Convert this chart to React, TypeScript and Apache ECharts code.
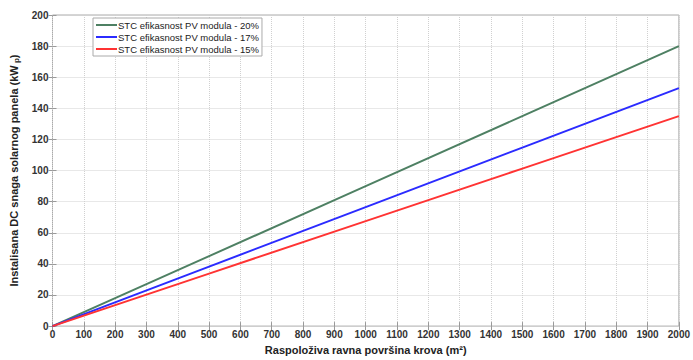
import React, { useEffect, useRef } from "react";
import * as echarts from "echarts";

const areas = [0, 500, 1000, 1500, 2000];
const eff20 = [0, 45, 90, 135, 180];
const eff17 = [0, 38.25, 76.5, 114.75, 153];
const eff15 = [0, 33.75, 67.5, 101.25, 135];
const seriesNames = [
  "STC efikasnost PV modula - 20%",
  "STC efikasnost PV modula - 17%",
  "STC efikasnost PV modula - 15%",
];
const colors = ["#4e8063", "#2b2bff", "#ff3333"];

export default function App() {
  const ref = useRef<HTMLDivElement>(null);
  useEffect(() => {
    if (!ref.current) return;
    const chart = echarts.init(ref.current, undefined, { renderer: "svg" });
    const all = [eff20, eff17, eff15];
    const tickLabel = { color: "#333", fontSize: 10, fontWeight: "bold" as const, fontFamily: "Liberation Sans, Arial, sans-serif", formatter: (v: number) => String(v) };
    chart.setOption({
      animation: false,
      backgroundColor: "#fff",
      grid: { left: 49, right: 8, top: 15, bottom: 25, show: true, borderColor: "#aaa", borderWidth: 1 },
      legend: {
        left: 93,
        top: 18,
        orient: "vertical",
        itemWidth: 21,
        itemHeight: 2,
        itemGap: 2,
        padding: [2, 3, 2, 3],
        borderColor: "#aaa",
        borderWidth: 1,
        backgroundColor: "#fff",
        icon: "rect",
        textStyle: { fontSize: 9.5, color: "#222", fontFamily: "Liberation Sans, Arial, sans-serif", padding: [0, 0, 0, -4] },
        data: seriesNames,
      },
      xAxis: [
        {
          type: "value",
          min: 0,
          max: 2000,
          interval: 100,
          name: "Raspoloživa ravna površina krova (m²)",
          nameLocation: "middle",
          nameGap: 15,
          nameTextStyle: { fontSize: 11, fontWeight: "bold", color: "#222", fontFamily: "Liberation Sans, Arial, sans-serif" },
          axisLine: { show: false },
          axisTick: { show: true, inside: true, length: 4, lineStyle: { color: "#999" } },
          axisLabel: { ...tickLabel, margin: 3 },
          splitLine: { show: true, lineStyle: { color: "#d0d0d0", type: "dotted" } },
        },
        {
          type: "value",
          position: "top",
          min: 0,
          max: 2000,
          interval: 100,
          axisLine: { show: false },
          axisTick: { show: true, inside: true, length: 4, lineStyle: { color: "#999" } },
          axisLabel: { show: false },
          splitLine: { show: false },
        },
      ],
      yAxis: [
        {
          type: "value",
          min: 0,
          max: 200,
          interval: 20,
          name: "{a|Instalisana DC snaga solarnog panela (kW}{s| p}{a|)}",
          nameLocation: "middle",
          nameGap: 32,
          nameTextStyle: {
            rich: {
              a: { fontSize: 11, fontWeight: "bold", color: "#222", fontFamily: "Liberation Sans, Arial, sans-serif" },
              s: { fontSize: 8, fontWeight: "bold", color: "#222", fontFamily: "Liberation Sans, Arial, sans-serif", padding: [6, 0, 0, 0] },
            },
          },
          axisLine: { show: false },
          axisTick: { show: true, inside: true, length: 4, lineStyle: { color: "#999" } },
          axisLabel: { ...tickLabel, margin: 4 },
          splitLine: { show: true, lineStyle: { color: "#d0d0d0", type: "dotted" } },
        },
        {
          type: "value",
          position: "right",
          min: 0,
          max: 200,
          interval: 20,
          axisLine: { show: false },
          axisTick: { show: true, inside: true, length: 4, lineStyle: { color: "#999" } },
          axisLabel: { show: false },
          splitLine: { show: false },
        },
      ],
      series: seriesNames.map((n, i) => ({
        name: n,
        type: "line",
        showSymbol: false,
        symbol: "none",
        data: areas.map((a, j) => [a, all[i][j]]),
        lineStyle: { color: colors[i], width: 2 },
        itemStyle: { color: colors[i] },
      })),
    });
    return () => chart.dispose();
  }, []);
  return <div ref={ref} style={{ width: 693, height: 360, position: "absolute", left: 0, top: 0 }} />;
}
